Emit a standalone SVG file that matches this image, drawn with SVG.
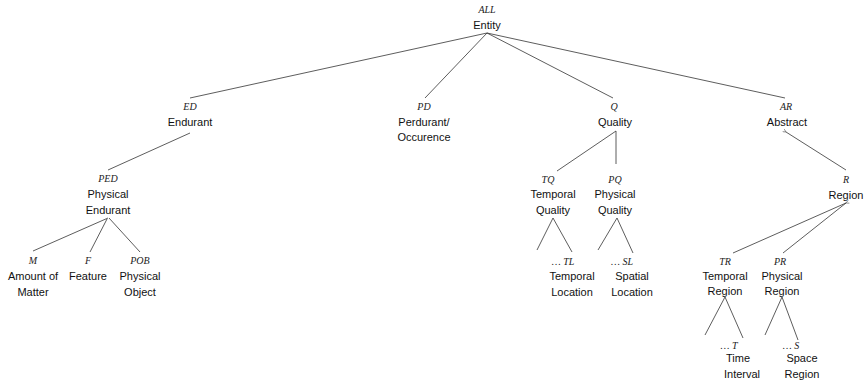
<svg xmlns="http://www.w3.org/2000/svg" width="864" height="384" viewBox="0 0 864 384">
<style>
.ab{font-family:"Liberation Serif",serif;font-style:italic;font-size:10px;fill:#222;text-anchor:middle}
.lb{font-family:"Liberation Sans",Arial,sans-serif;font-size:11px;fill:#111;text-anchor:middle}
.c line{stroke:#333;stroke-width:0.8;fill:none}
</style>
<defs>
<marker id="ah" viewBox="0 0 8 8" refX="1" refY="4" markerWidth="5" markerHeight="5" orient="auto-start-reverse">
<path d="M7,1 L1,4 L7,7" fill="none" stroke="#333" stroke-width="1"/>
</marker>
</defs>
<rect width="864" height="384" fill="#fff"/>
<g id="connectors" class="c">
<line x1="487" y1="33" x2="190" y2="98"/>
<line x1="487" y1="33" x2="425" y2="98"/>
<line x1="487" y1="33" x2="613" y2="98"/>
<line x1="487" y1="33" x2="785" y2="98"/>
<line x1="190" y1="133" x2="108" y2="170"/>
<line x1="108" y1="218" x2="33" y2="251"/>
<line x1="107" y1="219" x2="90" y2="252"/>
<line x1="109" y1="218" x2="140" y2="252"/>
<line x1="616" y1="131" x2="557" y2="171"/>
<line x1="616" y1="131" x2="616" y2="164"/>
<line x1="553" y1="218" x2="537" y2="250"/>
<line x1="553" y1="218" x2="572" y2="252"/>
<line x1="617" y1="218" x2="598" y2="250"/>
<line x1="617" y1="218" x2="633" y2="253"/>
<line x1="786" y1="132" x2="846" y2="170" marker-start="url(#ah)"/>
<line x1="846" y1="203" x2="733" y2="253" marker-start="url(#ah)"/>
<line x1="846" y1="203" x2="783" y2="253"/>
<line x1="725" y1="297" x2="705" y2="335"/>
<line x1="725" y1="297" x2="743" y2="338"/>
<line x1="782" y1="297" x2="765" y2="335"/>
<line x1="782" y1="297" x2="798" y2="340"/>
</g>
<g id="n-entity"><text class="ab" x="487" y="13">ALL</text><text class="lb" x="487" y="29">Entity</text></g>
<g id="n-ed"><text class="ab" x="190" y="110">ED</text><text class="lb" x="190" y="126">Endurant</text></g>
<g id="n-pd"><text class="ab" x="424" y="110">PD</text><text class="lb" x="424" y="126">Perdurant/</text><text class="lb" x="424" y="141">Occurence</text></g>
<g id="n-q"><text class="ab" x="614" y="110">Q</text><text class="lb" x="615" y="126">Quality</text></g>
<g id="n-ar"><text class="ab" x="786" y="110">AR</text><text class="lb" x="787" y="126">Abstract</text></g>
<g id="n-ped"><text class="ab" x="108" y="182">PED</text><text class="lb" x="108" y="198">Physical</text><text class="lb" x="108" y="214">Endurant</text></g>
<g id="n-m"><text class="ab" x="33" y="264">M</text><text class="lb" x="33" y="280">Amount of</text><text class="lb" x="33" y="296">Matter</text></g>
<g id="n-f"><text class="ab" x="88" y="264">F</text><text class="lb" x="88" y="280">Feature</text></g>
<g id="n-pob"><text class="ab" x="140" y="264">POB</text><text class="lb" x="140" y="280">Physical</text><text class="lb" x="140" y="296">Object</text></g>
<g id="n-tq"><text class="ab" x="548" y="183">TQ</text><text class="lb" x="553" y="198">Temporal</text><text class="lb" x="553" y="214">Quality</text></g>
<g id="n-pq"><text class="ab" x="615" y="183">PQ</text><text class="lb" x="615" y="198">Physical</text><text class="lb" x="615" y="214">Quality</text></g>
<g id="n-tl"><text class="ab" x="563" y="265">…  TL</text><text class="lb" x="572" y="280">Temporal</text><text class="lb" x="572" y="296">Location</text></g>
<g id="n-sl"><text class="ab" x="622" y="265">… SL</text><text class="lb" x="632" y="280">Spatial</text><text class="lb" x="632" y="296">Location</text></g>
<g id="n-r"><text class="ab" x="846" y="183">R</text><text class="lb" x="846" y="199">Region</text></g>
<g id="n-tr"><text class="ab" x="725" y="265">TR</text><text class="lb" x="725" y="280">Temporal</text><text class="lb" x="725" y="295">Region</text></g>
<g id="n-pr"><text class="ab" x="780" y="265">PR</text><text class="lb" x="782" y="280">Physical</text><text class="lb" x="782" y="295">Region</text></g>
<g id="n-t"><text class="ab" x="729" y="349">…   T</text><text class="lb" x="738" y="362">Time</text><text class="lb" x="742" y="378">Interval</text></g>
<g id="n-s"><text class="ab" x="791" y="349">…  S</text><text class="lb" x="802" y="362">Space</text><text class="lb" x="802" y="378">Region</text></g>
</svg>
